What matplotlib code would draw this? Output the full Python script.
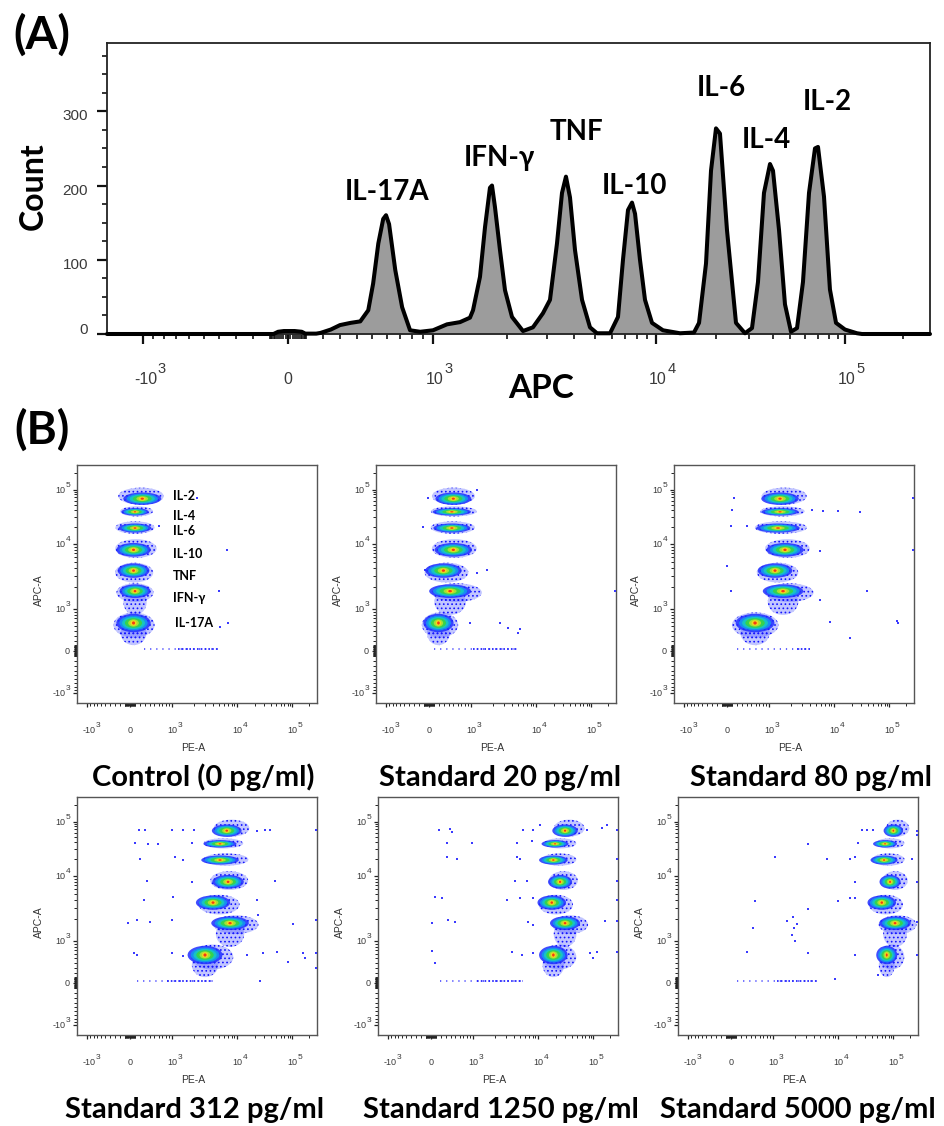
import numpy as np
import matplotlib
matplotlib.use("Agg")
import matplotlib.pyplot as plt
import matplotlib.transforms as mtransforms
from matplotlib.patches import Ellipse
from matplotlib.ticker import FixedLocator, NullFormatter

plt.rcParams['font.family'] = ['Liberation Sans', 'DejaVu Sans']
plt.rcParams['hatch.linewidth'] = 0.7

# ======================= DATA =======================
# (A) APC histogram trace
hist_apc = [-1401, -72, -44, -17, 28, 67, 94, 153, 182, 241, 300, 359, 420, 473, 507, 540,
            573, 593, 615, 662, 717, 783, 873, 1000, 1140, 1288, 1414, 1455, 1553, 1628, 1705,
            1738, 1787, 1873, 1963, 2104, 2352, 2602, 2880, 3097, 3337, 3520, 3672, 3833, 4043,
            4357, 4741, 5108, 5875, 6442, 6835, 7238, 7568, 7828, 8286, 8791, 9543, 10840,
            13200, 15510, 16440, 17820, 18880, 20000, 21000, 22890, 25570, 28560, 31100, 33410,
            35900, 38590, 40000, 43290, 46810, 50610, 54460, 58540, 62920, 67550, 70000, 75290,
            80990, 87700, 100000, 115400, 122500, 262144]
hist_count = [0, 0, 3, 4, 4, 3, 0.5, 0.5, 1.5, 6, 12, 15, 17, 32, 68, 122, 155, 160, 148, 86,
              36, 5, 3, 5, 13, 16, 22, 32, 77, 144, 197, 200, 171, 113, 59, 23, 4, 9, 28, 46,
              122, 190, 212, 184, 113, 46, 9, 1, 1, 23, 100, 167, 177, 162, 100, 46, 15, 5, 1,
              2, 15, 95, 220, 277, 270, 140, 15, 1, 8, 70, 190, 229, 220, 140, 40, 3, 8, 70,
              190, 250, 252, 185, 60, 15, 6, 1, 0, 0]
peak_names = ['IL-17A', 'IFN-γ', 'TNF', 'IL-10', 'IL-6', 'IL-4', 'IL-2']
peak_apc = [593, 1738, 3672, 7568, 20000, 38590, 70000]
peak_count = [160, 200, 212, 177, 277, 229, 252]

# (B) bead populations (APC levels shared by all panels)
cytokines = ['IL-2', 'IL-4', 'IL-6', 'IL-10', 'TNF', 'IFN-γ', 'IL-17A']
apc_center = [66400, 37700, 19100, 7970, 3628, 1767, 576]
apc_top = [104300, 47100, 24640, 11760, 4660, 2224, 830]
apc_bottom = [53800, 31860, 15600, 6000, 2463, 1288, 285]
apc_tail = [53800, 31860, 15600, 6000, 2463, 862, 140]

panel_titles = ['Control (0 pg/ml)', 'Standard 20 pg/ml', 'Standard 80 pg/ml',
                'Standard 312 pg/ml', 'Standard 1250 pg/ml', 'Standard 5000 pg/ml']

# PE extents of each bead population, per panel (order as `cytokines`)
pe_low = [[-191, -157, -251, -251, -257, -232, -292],
          [86, 61, 56, 86, -39, 86, -105],
          [812, 765, 628, 920, 669, 920, 126],
          [4278, 2969, 2969, 3793, 2496, 4278, 1962],
          [19560, 13170, 12310, 16060, 10800, 18300, 12310],
          [74200, 49030, 42100, 64550, 36600, 56400, 56400]]
pe_core = [[241, 99, 99, 61, 61, 99, 61],
           [501, 465, 465, 501, 287, 425, 186],
           [1422, 1422, 1333, 1669, 1211, 1566, 585],
           [6635, 5135, 5135, 7000, 3977, 7550, 2969],
           [29780, 19560, 18300, 24140, 17170, 29780, 18300],
           [100600, 69200, 66400, 85600, 60500, 107800, 74200]]
pe_high = [[688, 441, 471, 517, 441, 449, 471],
           [1075, 1136, 1075, 1136, 855, 1333, 579],
           [3312, 3080, 3312, 3695, 2472, 4230, 1279],
           [15420, 12030, 14640, 14640, 10380, 21910, 8057],
           [64550, 45460, 45460, 49030, 39230, 74200, 45460],
           [186200, 151600, 151600, 174100, 141900, 237000, 151600]]

# events sitting near APC = 0 (PE range, sparse part and dense part)
zero_apc = 22
zero_pe_sparse = [(267, 4830), (86, 5000), (194, 3977), (134, 4024), (180, 5590), (113, 4390)]
zero_pe_dense = [(1223, 4830), (1075, 5000), (2500, 3977), (823, 4024), (1124, 5590), (1124, 4390)]

# scattered single events
stray_pe = [
    [6635, 4950, 5135, 7080, 2226, 618],
    [2584, 3475, 5330, 5000, 1654, 255000, -9, -105, -72, 1199, 1199, 964],
    [-1, 61, 8485, 18810, 136300, 145400, 28560, 11820, 6520, 4230, 37700, 5735, 5735, 61,
     396, 93, 126, 255000, 255000],
    [167, 301, 988, 1437, 1991, 21910, 31020, 38130, 99, 368, 593, 1880, 201, 1099, 1437, 335,
     1880, 47460, 267, 1041, 21910, -28, 134, 403, 988, 23400, 104900, 70, 134, 988, 1437,
     14640, 29000, 51230, 82960, 157500, 169200, 255000, 255000, 255000, 255000, 25160],
    [146, 382, 419, 5590, 8258, 10800, 74200, 141900, 174100, 255000, 315, 954, 4390, 7760,
     315, 533, 4390, 4950, 255000, 4125, 6363, 255000, 80, 215, 3060, 4950, 8258, 255000, 18,
     348, 494, 6800, 8258, 162500, 255000, 18, 80, 3657, 5270, 8258, 85600, 115400, 100600,
     255000],
    [25900, 31900, 42100, 3230, 22450, 1065, 6363, 16060, 19560, 211600, 19560, 255000, 494,
     3230, 10090, 16060, 19560, 1550, 1880, 2148, 1958, 455, 1820, 1991, 3230, 328, 19560,
     52500, 255000, 255000, 255000, 8840, 255000]]
stray_apc = [
    [7800, 1800, 487, 584, 68000, 20700],
    [584, 466, 442, 342, 3700, 1800, 68000, 20000, 3700, 100000, 3300, 584],
    [4250, 1800, 607, 250, 620, 584, 38000, 39000, 39000, 40000, 1800, 7640, 1310, 20700,
     20700, 40000, 68000, 68000, 7800],
    [69000, 69000, 69000, 69000, 69000, 66000, 69000, 69000, 39700, 37000, 37000, 39700, 20000,
     21500, 19000, 8200, 7900, 8200, 4000, 4500, 4000, 1800, 1950, 1840, 1950, 2300, 1730, 615,
     575, 615, 553, 575, 615, 643, 423, 615, 500, 615, 286, 69000, 1950, 19],
    [69000, 72000, 64000, 69000, 67000, 85000, 69000, 75000, 85000, 69000, 39700, 39700, 39700,
     42000, 21500, 20000, 21500, 20000, 20000, 8300, 8200, 8200, 4500, 4250, 4000, 4250, 4250,
     4000, 1800, 1950, 1840, 1840, 1650, 1880, 1880, 688, 391, 662, 575, 615, 615, 662, 500,
     643],
    [68000, 68000, 68000, 38000, 39700, 21500, 20000, 20000, 21500, 20000, 7900, 7800, 3900,
     2900, 3900, 4250, 4300, 1880, 2150, 1720, 1500, 1500, 1200, 1000, 635, 662, 575, 147,
     66000, 1840, 575, 64, 55000]]

# ======================= AXIS TRANSFORM (biexponential display) =======================
_AV = np.array([0, 100, 200, 300, 400, 500, 600, 700, 800, 900, 1000, 2000, 3000, 4000, 5000,
                6000, 7000, 8000, 9000, 10000, 20000, 30000, 40000, 50000, 60000, 70000, 80000,
                90000, 100000, 200000, 262144], float)
_AP = np.array([0, 18, 35, 52, 69, 84, 99, 112, 124, 135, 145, 219, 259, 286, 307, 324, 337,
                349, 359, 368, 428, 461, 485, 502, 517, 530, 541, 550, 557, 615, 642], float)
_C = 50.0
_AU = np.arcsinh(_AV / _C)
_SLOPE = (_AP[-1] - _AP[-2]) / (_AU[-1] - _AU[-2])


def _fwd(v):
    v = np.asarray(v, dtype=float)
    u = np.arcsinh(np.abs(v) / _C)
    p = np.interp(u, _AU, _AP)
    p = np.where(u > _AU[-1], _AP[-1] + (u - _AU[-1]) * _SLOPE, p)
    return np.sign(v) * p


def _inv(p):
    p = np.asarray(p, dtype=float)
    a = np.abs(p)
    u = np.interp(a, _AP, _AU)
    u = np.where(a > _AP[-1], _AU[-1] + (a - _AP[-1]) / _SLOPE, u)
    u = np.clip(u, 0, 600)
    return np.sign(p) * _C * np.sinh(u)


LIM = (-1401, 262144)
MAJOR = [-1000, 0, 1000, 10000, 100000]
MAJOR_BASE = ['-10', '0', '10', '10', '10']
MAJOR_EXP = ['3', '', '3', '4', '5']
_m = [k * 10 for k in range(1, 10)] + [k * 100 for k in range(1, 10)]
MINOR = sorted([-x for x in _m] + _m + [k * 1000 for k in range(2, 10)] +
               [k * 10000 for k in range(2, 10)] + [200000])

W, H = 945, 1126
fig = plt.figure(figsize=(9.45, 11.26), dpi=100)
BOLD = ['Lato', 'DejaVu Sans']
TICKCOL = '#3a3a3a'


def fx(px):
    return px / W


def fy(py):
    return 1 - py / H


def off(trans, dx, dy):
    return mtransforms.offset_copy(trans, fig=fig, x=dx, y=dy, units='dots')


def x_exp_labels(ax, base_dy, anchor_dx, anchor_dx_neg, raise_px, fs_b, fs_e):
    t = mtransforms.blended_transform_factory(ax.transData, ax.transAxes)
    for v, b, e in zip(MAJOR, MAJOR_BASE, MAJOR_EXP):
        if not e:
            ax.text(v, 0, b, transform=off(t, 0, base_dy), ha='center', va='baseline',
                    fontsize=fs_b, color=TICKCOL)
            continue
        adx = anchor_dx_neg if v < 0 else anchor_dx
        ax.text(v, 0, b, transform=off(t, adx, base_dy), ha='right', va='baseline',
                fontsize=fs_b, color=TICKCOL)
        ax.text(v, 0, e, transform=off(t, adx + 0.5, base_dy + raise_px), ha='left',
                va='baseline', fontsize=fs_e, color=TICKCOL)


# ======================= (A) histogram =======================
axA = fig.add_axes([fx(107), fy(334), 823 / W, 291 / H])
axA.set_xscale('function', functions=(_fwd, _inv))
axA.set_xlim(*LIM)
axA.set_ylim(0, 392)
axA.fill_between(hist_apc, hist_count, 0, color='#9c9c9c', lw=0, zorder=2)
axA.plot(hist_apc, hist_count, color='black', lw=2.9, solid_joinstyle='round',
         solid_capstyle='round', zorder=3, clip_on=False)
axA.xaxis.set_major_locator(FixedLocator(MAJOR))
axA.xaxis.set_minor_locator(FixedLocator(MINOR))
axA.xaxis.set_major_formatter(NullFormatter())
axA.xaxis.set_minor_formatter(NullFormatter())
axA.yaxis.set_major_locator(FixedLocator([0, 100, 200, 300]))
axA.yaxis.set_minor_locator(FixedLocator([25, 50, 75, 125, 150, 175, 225, 250, 275, 325, 350, 375]))
axA.yaxis.set_major_formatter(NullFormatter())
axA.tick_params(which='major', direction='out', length=7.5, width=1.6, color='#111111')
axA.tick_params(which='minor', direction='out', length=3.8, width=1.2, color='#111111')
for s in axA.spines.values():
    s.set_linewidth(1.3)
    s.set_color('#222222')

x_exp_labels(axA, base_dy=-50, anchor_dx=11, anchor_dx_neg=14, raise_px=11, fs_b=11.5, fs_e=10.5)
tAy = mtransforms.blended_transform_factory(axA.transAxes, axA.transData)
for v in [0, 100, 200, 300]:
    dy = 4 if v == 0 else -5
    axA.text(0, v, str(v), transform=off(tAy, -19, dy), ha='right', va='center', fontsize=11,
             color=TICKCOL)

peak_off = [(1, 23), (7, 28), (11, 45), (2, 17), (5, 40), (-4, 24), (9, 45)]
for name, xv, yv, o in zip(peak_names, peak_apc, peak_count, peak_off):
    axA.annotate(name, (xv, yv), xytext=o, textcoords='offset pixels', ha='center',
                 va='center', fontsize=20, fontweight='bold', family=BOLD, zorder=5)

fig.text(fx(42), fy(35), '(A)', ha='center', va='center', fontsize=33, fontweight='bold',
         family=BOLD)
fig.text(fx(42), fy(430), '(B)', ha='center', va='center', fontsize=33, fontweight='bold',
         family=BOLD)
fig.text(fx(33), fy(186), 'Count', ha='center', va='center', rotation=90, fontsize=23,
         fontweight='bold', family=BOLD)
fig.text(fx(541), fy(388), 'APC', ha='center', va='center', fontsize=24, fontweight='bold',
         family=BOLD)

# ======================= (B) dot plots =======================
panel_rects = [(77, 465), (376, 465), (674, 465), (77, 797), (378, 797), (678, 797)]
PW, PH = 240, 238
title_pos = [(203, 786), (500, 786), (811, 786), (195, 1118), (501, 1118), (798, 1118)]

LAYERS = [  # (width frac, height frac, colour, alpha)
    (0.90, 0.82, '#1f2eff', 0.85),
    (0.74, 0.66, '#1596f0', 0.90),
    (0.60, 0.54, '#18c8c0', 0.95),
    (0.45, 0.43, '#36d24e', 1.0),
    (0.28, 0.32, '#a6e034', 1.0),
    (0.16, 0.24, '#f4d81c', 1.0),
    (0.08, 0.14, '#f23c12', 1.0),
]
HALO_FACE = (0.22, 0.27, 1.0, 0.30)
HALO_DOTS = '#1414ff'


def to_axes(ax, x, y):
    d = ax.transData.transform(np.array([[x, y]], float))
    return ax.transAxes.inverted().transform(d)[0]


for i, (lx, ty) in enumerate(panel_rects):
    ax = fig.add_axes([fx(lx), fy(ty + PH), PW / W, PH / H])
    ax.set_xscale('function', functions=(_fwd, _inv))
    ax.set_yscale('function', functions=(_fwd, _inv))
    ax.set_xlim(*LIM)
    ax.set_ylim(*LIM)
    for axis in (ax.xaxis, ax.yaxis):
        axis.set_major_locator(FixedLocator(MAJOR))
        axis.set_minor_locator(FixedLocator(MINOR))
        axis.set_major_formatter(NullFormatter())
        axis.set_minor_formatter(NullFormatter())
    ax.tick_params(which='major', direction='out', length=3.2, width=0.9, color='#222222')
    ax.tick_params(which='minor', direction='out', length=1.9, width=0.7, color='#222222')
    for s in ax.spines.values():
        s.set_linewidth(1.0)
        s.set_color('#555555')

    # events near APC = 0
    s_lo, s_hi = zero_pe_sparse[i]
    d_lo, d_hi = zero_pe_dense[i]
    ax.plot([s_lo, s_hi], [zero_apc, zero_apc], color='#3a3aff', lw=1.1,
            ls=(0, (0.8, 3.2)), zorder=2)
    ax.plot([d_lo, d_hi], [zero_apc, zero_apc], color='#2626ff', lw=1.3,
            ls=(0, (0.9, 1.2)), zorder=2)

    # bead populations
    for k in range(len(cytokines)):
        x0, y0 = to_axes(ax, pe_low[i][k], apc_bottom[k])
        x1, y1 = to_axes(ax, pe_high[i][k], apc_top[k])
        xc, yc = to_axes(ax, pe_core[i][k], apc_center[k])
        w, h = x1 - x0, y1 - y0
        halos = [((x0 + x1) / 2, (y0 + y1) / 2, w * 1.08, h * 1.12)]
        if apc_tail[k] < apc_bottom[k]:
            _, yt = to_axes(ax, pe_core[i][k], apc_tail[k])
            halos.insert(0, (xc, (yt + yc) / 2, w * 0.68, (yc - yt) * 1.2))
        for (cx, cy, ew, eh) in halos:
            ax.add_patch(Ellipse((cx, cy), ew, eh, transform=ax.transAxes,
                                 facecolor=HALO_FACE, edgecolor=HALO_DOTS, hatch='....',
                                 lw=0, zorder=3))
        for j, (wf, hf, col, al) in enumerate(LAYERS):
            ax.add_patch(Ellipse((xc, yc), w * wf, h * hf, transform=ax.transAxes,
                                 facecolor=col, edgecolor='none', alpha=al, zorder=4 + j))

    ax.scatter(stray_pe[i], stray_apc[i], s=1.8, marker='s', color='#3a3aff', lw=0, zorder=3)

    # tick labels
    x_exp_labels(ax, base_dy=-30, anchor_dx=5, anchor_dx_neg=8, raise_px=6, fs_b=6.5, fs_e=6)
    tY = mtransforms.blended_transform_factory(ax.transAxes, ax.transData)
    for v, b, e in zip(MAJOR, MAJOR_BASE, MAJOR_EXP):
        if not e:
            ax.text(0, v, b, transform=off(tY, -7, -3.2), ha='right', va='baseline',
                    fontsize=6.5, color=TICKCOL)
        else:
            ax.text(0, v, b, transform=off(tY, -11.5, -3.2), ha='right', va='baseline',
                    fontsize=6.5, color=TICKCOL)
            ax.text(0, v, e, transform=off(tY, -11, 2.8), ha='left', va='baseline',
                    fontsize=6, color=TICKCOL)
    ax.text(0.5, 0, 'PE-A', transform=off(ax.transAxes, -4, -45),
            ha='center', va='center', fontsize=7.5, color='#333333')
    ax.text(0, 0.5, 'APC-A', transform=off(ax.transAxes, -38, -6),
            ha='center', va='center', rotation=90, fontsize=7.5, color='#333333')

    if i == 0:
        lab_dy = [3, -4, -3, -4, -5, -7, 0]
        for k, name in enumerate(cytokines):
            xv = 1098 if name == 'IL-17A' else 1030
            ax.text(xv, apc_center[k], name, transform=off(ax.transData, 0, lab_dy[k]),
                    ha='left', va='center', fontsize=9, fontweight='bold', family=BOLD,
                    zorder=10)

    tx, tyy = title_pos[i]
    fig.text(fx(tx), fy(tyy), panel_titles[i], ha='center', va='baseline', fontsize=21,
             fontweight='bold', family=BOLD)

fig.savefig('out.png', dpi=100)
